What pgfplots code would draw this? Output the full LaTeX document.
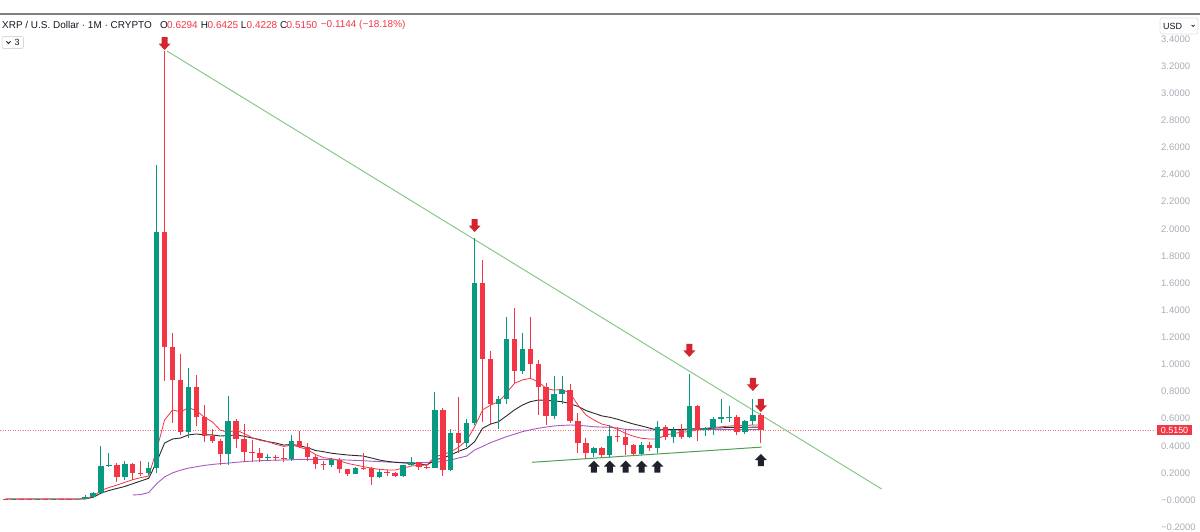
\documentclass[border=0pt]{standalone}
\usepackage{fontspec}
\setmainfont{Liberation Sans}
\usepackage{pgfplots}
\pgfplotsset{compat=1.18}
\usepackage{pgfplotstable}

\definecolor{tvgreen}{HTML}{089981}
\definecolor{tvred}{HTML}{F23645}
\definecolor{tvgrey}{HTML}{A9ACB5}
\definecolor{tvdark}{HTML}{131722}
\definecolor{mapurple}{HTML}{A65BC4}
\definecolor{mablack}{HTML}{2A2A2A}
\definecolor{trendgreen}{HTML}{86C988}
\definecolor{supgreen}{HTML}{4E9F50}
\definecolor{arrowred}{HTML}{D3252F}
\definecolor{arrowblk}{HTML}{1E222D}

\pgfdeclareplotmark{dnarrow}{%
 \pgfpathmoveto{\pgfqpoint{0bp}{0bp}}%
 \pgfpathlineto{\pgfqpoint{6bp}{6.5bp}}%
 \pgfpathlineto{\pgfqpoint{3bp}{6.5bp}}%
 \pgfpathlineto{\pgfqpoint{3bp}{13bp}}%
 \pgfpathlineto{\pgfqpoint{-3bp}{13bp}}%
 \pgfpathlineto{\pgfqpoint{-3bp}{6.5bp}}%
 \pgfpathlineto{\pgfqpoint{-6bp}{6.5bp}}%
 \pgfpathclose
 \pgfusepathqfill
}
\pgfdeclareplotmark{uparrow}{%
 \pgfpathmoveto{\pgfqpoint{0bp}{0bp}}%
 \pgfpathlineto{\pgfqpoint{6bp}{-6bp}}%
 \pgfpathlineto{\pgfqpoint{3bp}{-6bp}}%
 \pgfpathlineto{\pgfqpoint{3bp}{-12bp}}%
 \pgfpathlineto{\pgfqpoint{-3bp}{-12bp}}%
 \pgfpathlineto{\pgfqpoint{-3bp}{-6bp}}%
 \pgfpathlineto{\pgfqpoint{-6bp}{-6bp}}%
 \pgfpathclose
 \pgfusepathqfill
}

% monthly candles, i = months since Jan 2016
\pgfplotstableread{
i O H L C
5 0.0060 0.0075 0.0056 0.0067
8 0.0061 0.0075 0.0058 0.0072
10 0.0069 0.0095 0.0068 0.0078
13 0.0062 0.0066 0.0058 0.0063
14 0.0063 0.0390 0.0062 0.0215
15 0.0215 0.0620 0.0210 0.0540
16 0.054 0.400 0.050 0.251
17 0.251 0.350 0.240 0.258
19 0.172 0.290 0.150 0.265
22 0.198 0.280 0.185 0.236
23 0.236 2.470 0.200 1.980
27 0.504 0.970 0.460 0.830
32 0.337 0.770 0.260 0.580
37 0.310 0.340 0.290 0.320
40 0.305 0.480 0.290 0.435
45 0.255 0.310 0.240 0.295
48 0.193 0.245 0.190 0.238
51 0.173 0.220 0.160 0.209
54 0.174 0.260 0.170 0.258
55 0.258 0.320 0.250 0.278
58 0.238 0.794 0.235 0.664
60 0.224 0.520 0.215 0.496
62 0.418 0.600 0.390 0.570
63 0.570 1.930 0.550 1.598
66 0.708 0.767 0.520 0.742
67 0.742 1.352 0.708 1.185
69 0.954 1.230 0.930 1.111
73 0.620 0.914 0.600 0.780
74 0.780 0.914 0.708 0.812
78 0.344 0.390 0.315 0.381
80 0.332 0.553 0.310 0.474
84 0.339 0.425 0.330 0.405
86 0.381 0.585 0.350 0.536
88 0.467 0.540 0.418 0.516
90 0.467 0.929 0.460 0.695
92 0.516 0.540 0.475 0.533
93 0.533 0.610 0.480 0.597
94 0.597 0.742 0.570 0.610
95 0.610 0.695 0.577 0.615
97 0.501 0.590 0.490 0.585
98 0.585 0.742 0.553 0.627
}\upT

\pgfplotstableread{
i O H L C
4 0.0062 0.0068 0.0055 0.0060
6 0.0067 0.0070 0.0058 0.0063
7 0.0063 0.0068 0.0056 0.0061
9 0.0072 0.0078 0.0066 0.0069
11 0.0078 0.0080 0.0062 0.0065
12 0.0065 0.0075 0.0058 0.0062
18 0.258 0.270 0.135 0.172
20 0.265 0.270 0.150 0.200
21 0.200 0.290 0.180 0.196
24 1.980 3.310 0.880 1.126
25 1.126 1.230 0.570 0.885
26 0.885 1.080 0.480 0.504
28 0.830 0.920 0.545 0.610
29 0.610 0.700 0.430 0.470
30 0.470 0.520 0.420 0.435
31 0.435 0.450 0.260 0.337
33 0.580 0.600 0.380 0.450
34 0.450 0.560 0.280 0.356
35 0.356 0.440 0.280 0.350
36 0.350 0.380 0.280 0.310
38 0.320 0.330 0.290 0.312
39 0.312 0.385 0.280 0.305
41 0.435 0.510 0.380 0.393
42 0.393 0.420 0.290 0.320
43 0.320 0.330 0.226 0.263
44 0.263 0.290 0.220 0.255
46 0.295 0.310 0.200 0.226
47 0.226 0.232 0.180 0.193
49 0.238 0.344 0.220 0.233
50 0.234 0.240 0.110 0.173
52 0.209 0.220 0.180 0.200
53 0.200 0.210 0.170 0.174
56 0.278 0.280 0.220 0.244
57 0.244 0.260 0.230 0.238
59 0.664 0.680 0.177 0.224
61 0.496 0.756 0.349 0.418
64 1.598 1.770 0.577 1.042
65 1.042 1.100 0.553 0.708
68 1.185 1.414 0.860 0.954
70 1.111 1.350 0.897 1.003
71 1.003 1.030 0.627 0.831
72 0.831 0.860 0.553 0.620
75 0.812 0.853 0.570 0.583
76 0.583 0.640 0.344 0.423
77 0.423 0.460 0.300 0.344
79 0.381 0.390 0.320 0.332
81 0.474 0.536 0.430 0.462
82 0.462 0.520 0.332 0.405
83 0.405 0.410 0.330 0.339
85 0.405 0.430 0.360 0.381
87 0.536 0.550 0.440 0.467
89 0.516 0.560 0.450 0.467
91 0.695 0.700 0.437 0.516
96 0.615 0.630 0.480 0.501
99 0.6294 0.6425 0.4228 0.5150
}\downT

% moving averages: i red black purple (nan = not shown)
\pgfplotstableread{
i r k p
4 0.007 0.007 nan
5 0.007 0.007 nan
6 0.007 0.007 nan
7 0.007 0.007 nan
8 0.007 0.007 nan
9 0.007 0.007 nan
10 0.007 0.007 nan
11 0.007 0.007 nan
12 0.007 0.007 nan
13 0.007 0.007 nan
14 0.010 0.008 nan
15 0.025 0.020 nan
16 0.070 0.050 nan
17 0.092 0.070 nan
18 0.110 0.085 nan
19 0.130 0.100 nan
20 0.150 0.120 0.037
21 0.165 0.140 0.040
22 0.177 0.160 0.055
23 0.370 0.280 0.120
24 0.590 0.420 0.170
25 0.664 0.450 0.200
26 0.650 0.457 0.220
27 0.680 0.480 0.235
28 0.660 0.487 0.245
29 0.610 0.480 0.255
30 0.577 0.480 0.262
31 0.515 0.472 0.268
32 0.500 0.475 0.272
33 0.515 0.480 0.278
34 0.490 0.470 0.283
35 0.460 0.457 0.287
36 0.440 0.445 0.290
37 0.430 0.430 0.292
38 0.410 0.420 0.294
39 0.395 0.405 0.295
40 0.405 0.410 0.297
41 0.390 0.400 0.300
42 0.370 0.385 0.300
43 0.335 0.365 0.300
44 0.312 0.356 0.299
45 0.305 0.345 0.297
46 0.290 0.338 0.296
47 0.270 0.332 0.295
48 0.258 0.328 0.292
49 0.246 0.324 0.290
50 0.235 0.310 0.286
51 0.226 0.295 0.283
52 0.222 0.285 0.280
53 0.221 0.278 0.278
54 0.235 0.274 0.276
55 0.250 0.270 0.275
56 0.256 0.265 0.275
57 0.258 0.258 0.276
58 0.320 0.295 0.278
59 0.335 0.310 0.285
60 0.356 0.332 0.295
61 0.390 0.360 0.310
62 0.440 0.381 0.324
63 0.540 0.430 0.369
64 0.664 0.529 0.395
65 0.700 0.560 0.423
66 0.725 0.577 0.445
67 0.787 0.620 0.467
68 0.860 0.664 0.485
69 0.885 0.700 0.504
70 0.897 0.725 0.517
71 0.872 0.737 0.529
72 0.823 0.735 0.538
73 0.810 0.730 0.546
74 0.816 0.725 0.550
75 0.787 0.710 0.553
76 0.700 0.690 0.551
77 0.627 0.660 0.546
78 0.590 0.640 0.540
79 0.560 0.620 0.538
80 0.546 0.610 0.536
81 0.520 0.595 0.530
82 0.490 0.577 0.521
83 0.470 0.560 0.518
84 0.455 0.546 0.516
85 0.450 0.530 0.516
86 0.450 0.516 0.516
87 0.480 0.520 0.516
88 0.490 0.520 0.516
89 0.500 0.520 0.517
90 0.504 0.525 0.518
91 0.520 0.525 0.518
92 0.529 0.525 0.519
93 0.535 0.530 0.520
94 0.540 0.532 0.520
95 0.545 0.535 0.520
96 0.550 0.536 0.520
97 0.550 0.536 0.520
98 0.553 0.537 0.520
99 0.553 0.537 0.520
}\maT

\begin{document}
\begin{tikzpicture}
\useasboundingbox (0,0) rectangle (1200bp,532bp);
\begin{axis}[
  at={(0,0)}, anchor=south west,
  scale only axis, width=1155bp, height=518bp,
  xmin=3.296, xmax=148.58, ymin=-0.236, ymax=3.584,
  axis line style={draw=none},
  tick style={draw=none},
  major tick length=0pt,
  xtick=\empty,
  ytick={-0.2,0,0.2,0.4,0.6,0.8,1.0,1.2,1.4,1.6,1.8,2.0,2.2,2.4,2.6,2.8,3.0,3.2,3.4},
  yticklabels={−0.2000,−0.0000,0.2000,0.4000,0.6000,0.8000,1.0000,1.2000,1.4000,1.6000,1.8000,2.0000,2.2000,2.4000,2.6000,2.8000,3.0000,3.2000,3.4000},
  yticklabel pos=right,
  yticklabel style={font=\fontsize{9.5}{10}\selectfont, text=tvgrey, anchor=west, inner sep=0pt, xshift=6bp},
  unbounded coords=jump,
]
% last price dotted line
\addplot[tvred!70, line width=0.8bp, dash pattern=on 1bp off 1.5bp, forget plot] coordinates {(3.296,0.515) (148.58,0.515)};

% moving averages
\addplot[mapurple, line width=0.9bp, line join=round] table[x=i, y=p] {\maT};
\addplot[mablack, line width=0.9bp, line join=round] table[x=i, y=k] {\maT};
\addplot[tvred, line width=0.8bp, line join=round] table[x=i, y=r] {\maT};

% trend lines
\addplot[trendgreen, line width=1bp] coordinates {(24.30,3.311) (114.2,0.081)};
\addplot[supgreen, line width=1bp] coordinates {(70.2,0.278) (99.1,0.390)};

% wicks
\addplot[draw=none, mark=none, forget plot, error bars/.cd, y dir=plus, y explicit, error mark=none,
  error bar style={draw=tvgreen, line width=1bp}]
  table[x=i, y=L, y error plus expr=\thisrow{H}-\thisrow{L}] {\upT};
\addplot[draw=none, mark=none, forget plot, error bars/.cd, y dir=plus, y explicit, error mark=none,
  error bar style={draw=tvred, line width=1bp}]
  table[x=i, y=L, y error plus expr=\thisrow{H}-\thisrow{L}] {\downT};
% bodies
\addplot[draw=none, mark=none, forget plot, error bars/.cd, y dir=plus, y explicit, error mark=none,
  error bar style={draw=tvgreen, line width=5.4bp}]
  table[x=i, y=O, y error plus expr=\thisrow{C}-\thisrow{O}] {\upT};
\addplot[draw=none, mark=none, forget plot, error bars/.cd, y dir=plus, y explicit, error mark=none,
  error bar style={draw=tvred, line width=5.4bp}]
  table[x=i, y=C, y error plus expr=\thisrow{O}-\thisrow{C}] {\downT};

% arrows
\addplot[only marks, mark=dnarrow, color=arrowred, mark options={fill=arrowred, draw=none}]
  coordinates {(24,3.318) (63,1.976) (90,1.055) (98,0.804) (99,0.649)};
\addplot[only marks, mark=uparrow, color=arrowblk, mark options={fill=arrowblk, draw=none}]
  coordinates {(78,0.290) (80,0.290) (82,0.290) (84,0.290) (86,0.290) (99,0.339)};
\end{axis}

% frame and header
\draw[line width=1.2bp, color=black!50] (0,518bp) -- (1200bp,518bp);
\begin{scope}[every node/.style={inner sep=0pt, font=\fontsize{10}{12}\selectfont}]
\node[anchor=west, text=tvdark] at (2bp,507bp) {XRP / U.S. Dollar · 1M · CRYPTO};
\node[anchor=west, text=tvdark] at (160bp,507bp) {O};
\node[anchor=west, text=tvred] at (167bp,507bp) {0.6294};
\node[anchor=west, text=tvdark] at (200.7bp,507bp) {H};
\node[anchor=west, text=tvred] at (207.5bp,507bp) {0.6425};
\node[anchor=west, text=tvdark] at (240.7bp,507bp) {L};
\node[anchor=west, text=tvred] at (246.5bp,507bp) {0.4228};
\node[anchor=west, text=tvdark] at (280bp,507bp) {C};
\node[anchor=west, text=tvred] at (286.5bp,507bp) {0.5150};
\node[anchor=west, text=tvred] at (320.7bp,507bp) {−0.1144 (−18.18\%)};
\end{scope}
% indicator toggle box
\draw[rounded corners=2bp, draw=black!15, fill=white, line width=0.7bp] (2bp,483.5bp) rectangle (23.5bp,495.5bp);
\draw[tvdark, line width=0.8bp] (6.5bp,490.5bp) -- (8.5bp,488.5bp) -- (10.5bp,490.5bp);
\node[inner sep=0pt, anchor=west, text=tvdark, font=\fontsize{9}{10}\selectfont] at (14.5bp,489.5bp) {3};
% USD box
\draw[rounded corners=2bp, draw=black!12, fill=white, line width=0.7bp] (1160bp,498bp) rectangle (1198bp,514bp);
\node[inner sep=0pt, anchor=west, text=tvdark, font=\fontsize{9}{10}\selectfont] at (1163bp,506bp) {USD};
\draw[tvdark, line width=0.7bp] (1191.5bp,507bp) -- (1193bp,505.5bp) -- (1194.5bp,507bp);
% last price label
\fill[tvred] (1157bp,96.5bp) rectangle (1192bp,106.5bp);
\node[inner sep=0pt, text=white, font=\fontsize{9}{10}\selectfont] at (1174.5bp,101.5bp) {0.5150};
\end{tikzpicture}
\end{document}
